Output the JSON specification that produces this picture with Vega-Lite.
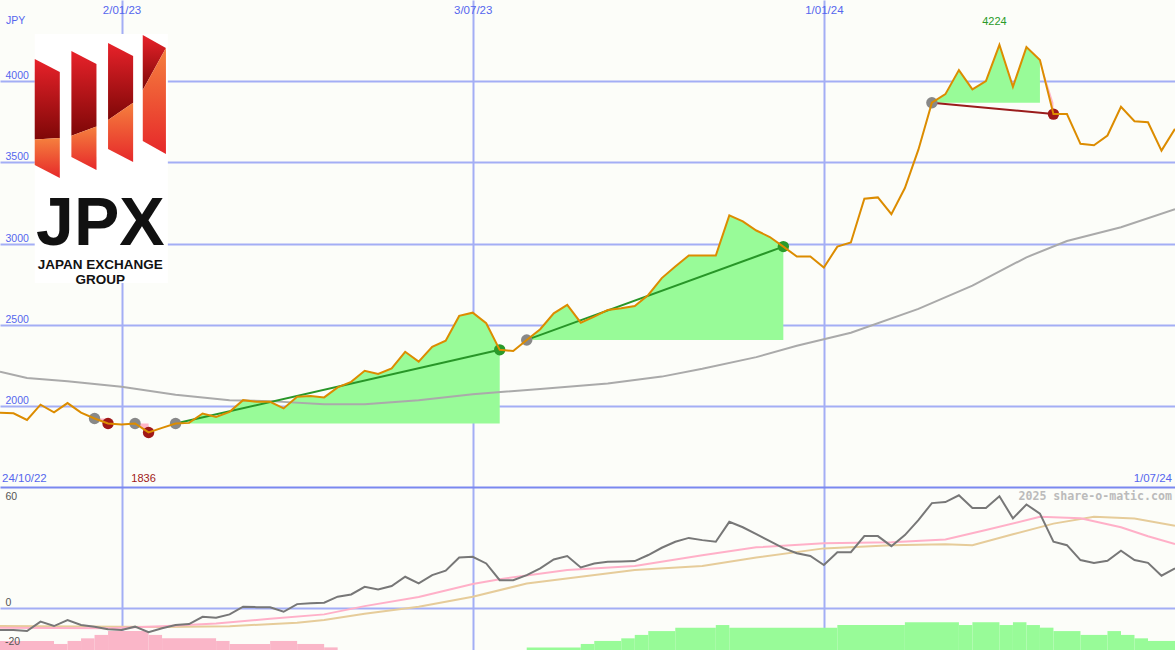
{
"$schema": "https://vega.github.io/schema/vega-lite/v6.json",
"background": "#fcfdf9",
"padding": 0,
"spacing": 0,
"bounds": "flush",
"config": {
  "view": {"stroke": null},
  "axis": {"ticks": false, "tickSize": 0, "domain": false, "title": null, "labelFont": "Liberation Sans", "labelFlush": false, "labelOverlap": false},
  "text": {"font": "Liberation Sans"}
},
"datasets": {
  "price": [
    {"d":"2022-10-31","p":1957},{"d":"2022-11-07","p":1954},{"d":"2022-11-14","p":1913},{"d":"2022-11-21","p":2007},
    {"d":"2022-11-28","p":1960},{"d":"2022-12-05","p":2017},{"d":"2022-12-12","p":1958},{"d":"2022-12-19","p":1922},
    {"d":"2022-12-26","p":1891},{"d":"2023-01-02","p":1885},{"d":"2023-01-09","p":1891},{"d":"2023-01-16","p":1836},
    {"d":"2023-01-23","p":1864},{"d":"2023-01-30","p":1891},{"d":"2023-02-06","p":1895},{"d":"2023-02-13","p":1953},
    {"d":"2023-02-20","p":1932},{"d":"2023-02-27","p":1963},{"d":"2023-03-06","p":2035},{"d":"2023-03-13","p":2025},
    {"d":"2023-03-20","p":2025},{"d":"2023-03-27","p":1984},{"d":"2023-04-03","p":2056},{"d":"2023-04-10","p":2060},
    {"d":"2023-04-17","p":2052},{"d":"2023-04-24","p":2114},{"d":"2023-05-01","p":2148},{"d":"2023-05-08","p":2216},
    {"d":"2023-05-15","p":2196},{"d":"2023-05-22","p":2231},{"d":"2023-05-29","p":2333},{"d":"2023-06-05","p":2272},
    {"d":"2023-06-12","p":2364},{"d":"2023-06-19","p":2401},{"d":"2023-06-26","p":2554},{"d":"2023-07-03","p":2574},
    {"d":"2023-07-10","p":2509},{"d":"2023-07-17","p":2345},{"d":"2023-07-24","p":2338},{"d":"2023-07-31","p":2406},
    {"d":"2023-08-07","p":2472},{"d":"2023-08-14","p":2570},{"d":"2023-08-21","p":2622},{"d":"2023-08-28","p":2512},
    {"d":"2023-09-04","p":2549},{"d":"2023-09-11","p":2591},{"d":"2023-09-18","p":2601},{"d":"2023-09-25","p":2615},
    {"d":"2023-10-02","p":2683},{"d":"2023-10-09","p":2787},{"d":"2023-10-16","p":2858},{"d":"2023-10-23","p":2926},
    {"d":"2023-10-30","p":2926},{"d":"2023-11-06","p":2926},{"d":"2023-11-13","p":3173},{"d":"2023-11-20","p":3136},
    {"d":"2023-11-27","p":3080},{"d":"2023-12-04","p":3040},{"d":"2023-12-11","p":2981},{"d":"2023-12-18","p":2920},
    {"d":"2023-12-25","p":2920},{"d":"2024-01-01","p":2852},{"d":"2024-01-08","p":2981},{"d":"2024-01-15","p":3006},
    {"d":"2024-01-22","p":3276},{"d":"2024-01-29","p":3284},{"d":"2024-02-05","p":3181},{"d":"2024-02-12","p":3342},
    {"d":"2024-02-19","p":3578},{"d":"2024-02-26","p":3867},{"d":"2024-03-04","p":3920},{"d":"2024-03-11","p":4068},
    {"d":"2024-03-18","p":3949},{"d":"2024-03-25","p":4000},{"d":"2024-04-01","p":4224},{"d":"2024-04-08","p":3965},
    {"d":"2024-04-15","p":4210},{"d":"2024-04-22","p":4130},{"d":"2024-04-29","p":3797},{"d":"2024-05-06","p":3797},
    {"d":"2024-05-13","p":3614},{"d":"2024-05-20","p":3605},{"d":"2024-05-27","p":3665},{"d":"2024-06-03","p":3842},
    {"d":"2024-06-10","p":3753},{"d":"2024-06-17","p":3747},{"d":"2024-06-24","p":3572},{"d":"2024-07-01","p":3706}
  ],
  "ma": [
    {"d":"2022-10-31","p":2210},{"d":"2022-11-14","p":2172},{"d":"2022-12-05","p":2152},{"d":"2023-01-02","p":2117},
    {"d":"2023-01-30","p":2068},{"d":"2023-02-27","p":2035},{"d":"2023-03-20","p":2029},{"d":"2023-04-17","p":2010},
    {"d":"2023-05-08","p":2010},{"d":"2023-06-05","p":2034},{"d":"2023-07-03","p":2072},{"d":"2023-08-07","p":2103},
    {"d":"2023-09-11","p":2138},{"d":"2023-10-09","p":2180},{"d":"2023-10-30","p":2228},{"d":"2023-11-27","p":2300},
    {"d":"2023-12-18","p":2370},{"d":"2024-01-15","p":2450},{"d":"2024-02-19","p":2597},{"d":"2024-03-18","p":2740},
    {"d":"2024-04-15","p":2915},{"d":"2024-05-06","p":3015},{"d":"2024-06-03","p":3100},{"d":"2024-07-01","p":3212}
  ],
  "fills": [
    {"g":"A","c":"up","d":"2023-01-30","p":1891,"p2":1891},{"g":"A","c":"up","d":"2023-02-06","p":1895,"p2":1891},
    {"g":"A","c":"up","d":"2023-02-13","p":1953,"p2":1891},{"g":"A","c":"up","d":"2023-02-20","p":1932,"p2":1891},
    {"g":"A","c":"up","d":"2023-02-27","p":1963,"p2":1891},{"g":"A","c":"up","d":"2023-03-06","p":2035,"p2":1891},
    {"g":"A","c":"up","d":"2023-03-13","p":2025,"p2":1891},{"g":"A","c":"up","d":"2023-03-20","p":2025,"p2":1891},
    {"g":"A","c":"up","d":"2023-03-27","p":1984,"p2":1891},{"g":"A","c":"up","d":"2023-04-03","p":2056,"p2":1891},
    {"g":"A","c":"up","d":"2023-04-10","p":2060,"p2":1891},{"g":"A","c":"up","d":"2023-04-17","p":2052,"p2":1891},
    {"g":"A","c":"up","d":"2023-04-24","p":2114,"p2":1891},{"g":"A","c":"up","d":"2023-05-01","p":2148,"p2":1891},
    {"g":"A","c":"up","d":"2023-05-08","p":2216,"p2":1891},{"g":"A","c":"up","d":"2023-05-15","p":2196,"p2":1891},
    {"g":"A","c":"up","d":"2023-05-22","p":2231,"p2":1891},{"g":"A","c":"up","d":"2023-05-29","p":2333,"p2":1891},
    {"g":"A","c":"up","d":"2023-06-05","p":2272,"p2":1891},{"g":"A","c":"up","d":"2023-06-12","p":2364,"p2":1891},
    {"g":"A","c":"up","d":"2023-06-19","p":2401,"p2":1891},{"g":"A","c":"up","d":"2023-06-26","p":2554,"p2":1891},
    {"g":"A","c":"up","d":"2023-07-03","p":2574,"p2":1891},{"g":"A","c":"up","d":"2023-07-10","p":2509,"p2":1891},
    {"g":"A","c":"up","d":"2023-07-17","p":2345,"p2":1891},
    {"g":"B","c":"up","d":"2023-07-31","p":2406,"p2":2406},{"g":"B","c":"up","d":"2023-08-07","p":2472,"p2":2406},
    {"g":"B","c":"up","d":"2023-08-14","p":2570,"p2":2406},{"g":"B","c":"up","d":"2023-08-21","p":2622,"p2":2406},
    {"g":"B","c":"up","d":"2023-08-28","p":2512,"p2":2406},{"g":"B","c":"up","d":"2023-09-04","p":2549,"p2":2406},
    {"g":"B","c":"up","d":"2023-09-11","p":2591,"p2":2406},{"g":"B","c":"up","d":"2023-09-18","p":2601,"p2":2406},
    {"g":"B","c":"up","d":"2023-09-25","p":2615,"p2":2406},{"g":"B","c":"up","d":"2023-10-02","p":2683,"p2":2406},
    {"g":"B","c":"up","d":"2023-10-09","p":2787,"p2":2406},{"g":"B","c":"up","d":"2023-10-16","p":2858,"p2":2406},
    {"g":"B","c":"up","d":"2023-10-23","p":2926,"p2":2406},{"g":"B","c":"up","d":"2023-10-30","p":2926,"p2":2406},
    {"g":"B","c":"up","d":"2023-11-06","p":2926,"p2":2406},{"g":"B","c":"up","d":"2023-11-13","p":3173,"p2":2406},
    {"g":"B","c":"up","d":"2023-11-20","p":3136,"p2":2406},{"g":"B","c":"up","d":"2023-11-27","p":3080,"p2":2406},
    {"g":"B","c":"up","d":"2023-12-04","p":3040,"p2":2406},{"g":"B","c":"up","d":"2023-12-11","p":2981,"p2":2406},
    {"g":"C","c":"up","d":"2024-02-26","p":3867,"p2":3867},{"g":"C","c":"up","d":"2024-03-04","p":3920,"p2":3867},
    {"g":"C","c":"up","d":"2024-03-11","p":4068,"p2":3867},{"g":"C","c":"up","d":"2024-03-18","p":3949,"p2":3867},
    {"g":"C","c":"up","d":"2024-03-25","p":4000,"p2":3867},{"g":"C","c":"up","d":"2024-04-01","p":4224,"p2":3867},
    {"g":"C","c":"up","d":"2024-04-08","p":3965,"p2":3867},{"g":"C","c":"up","d":"2024-04-15","p":4210,"p2":3867},
    {"g":"C","c":"up","d":"2024-04-22","p":4130,"p2":3867},
    {"g":"P1","c":"down","d":"2022-12-19","p":1922,"p2":1922},{"g":"P1","c":"down","d":"2022-12-26","p":1891,"p2":1922},
    {"g":"P2","c":"down","d":"2023-01-09","p":1891,"p2":1891},{"g":"P2","c":"down","d":"2023-01-16","p":1836,"p2":1891},
    {"g":"P3","c":"down","d":"2024-04-22","p":4130,"p2":4130},{"g":"P3","c":"down","d":"2024-04-29","p":3797,"p2":3867}
  ],
  "trend": [
    {"g":"T1","c":"up","d":"2023-01-30","p":1891},{"g":"T1","c":"up","d":"2023-07-17","p":2345},
    {"g":"T2","c":"up","d":"2023-07-31","p":2406},{"g":"T2","c":"up","d":"2023-12-11","p":2981},
    {"g":"T3","c":"down","d":"2024-02-26","p":3867},{"g":"T3","c":"down","d":"2024-04-29","p":3797}
  ],
  "pts": [
    {"c":"start","d":"2022-12-19","p":1922},{"c":"start","d":"2023-01-09","p":1891},{"c":"start","d":"2023-01-30","p":1891},
    {"c":"start","d":"2023-07-31","p":2406},{"c":"start","d":"2024-02-26","p":3867},
    {"c":"low","d":"2022-12-26","p":1891},{"c":"low","d":"2023-01-16","p":1836},{"c":"low","d":"2024-04-29","p":3797},
    {"c":"high","d":"2023-07-17","p":2345},{"c":"high","d":"2023-12-11","p":2981}
  ],
  "logoU": [
    {"b":1,"d":"2022-11-18","p":4137,"p2":3640},{"b":1,"d":"2022-12-01","p":4056,"p2":3650},
    {"b":2,"d":"2022-12-07","p":4186,"p2":3664},{"b":2,"d":"2022-12-20","p":4106,"p2":3720},
    {"b":3,"d":"2022-12-26","p":4235,"p2":3761},{"b":3,"d":"2023-01-08","p":4155,"p2":3867},
    {"b":4,"d":"2023-01-13","p":4284,"p2":3946},{"b":4,"d":"2023-01-25","p":4204,"p2":4204}
  ],
  "logoL": [
    {"b":1,"d":"2022-11-18","p":3640,"p2":3484},{"b":1,"d":"2022-12-01","p":3650,"p2":3404},
    {"b":2,"d":"2022-12-07","p":3664,"p2":3533},{"b":2,"d":"2022-12-20","p":3720,"p2":3453},
    {"b":3,"d":"2022-12-26","p":3761,"p2":3582},{"b":3,"d":"2023-01-08","p":3867,"p2":3502},
    {"b":4,"d":"2023-01-13","p":3946,"p2":3631},{"b":4,"d":"2023-01-25","p":4204,"p2":3551}
  ],
  "osc": [
    {"d":"2022-10-31","v":-11.1},{"d":"2022-11-07","v":-11.1},{"d":"2022-11-14","v":-11.6},{"d":"2022-11-21","v":-6.9},
    {"d":"2022-11-28","v":-9.1},{"d":"2022-12-05","v":-6.1},{"d":"2022-12-12","v":-8.6},{"d":"2022-12-19","v":-9.4},
    {"d":"2022-12-26","v":-10.7},{"d":"2023-01-02","v":-11.1},{"d":"2023-01-09","v":-9.4},{"d":"2023-01-16","v":-12.2},
    {"d":"2023-01-23","v":-10.2},{"d":"2023-01-30","v":-8.6},{"d":"2023-02-06","v":-8.1},{"d":"2023-02-13","v":-4.5},
    {"d":"2023-02-20","v":-5.0},{"d":"2023-02-27","v":-3.3},{"d":"2023-03-06","v":0.5},{"d":"2023-03-13","v":0.3},
    {"d":"2023-03-20","v":0.2},{"d":"2023-03-27","v":-2.0},{"d":"2023-04-03","v":1.8},{"d":"2023-04-10","v":2.2},
    {"d":"2023-04-17","v":2.5},{"d":"2023-04-24","v":5.5},{"d":"2023-05-01","v":6.6},{"d":"2023-05-08","v":10.4},
    {"d":"2023-05-15","v":9.1},{"d":"2023-05-22","v":10.8},{"d":"2023-05-29","v":15.4},{"d":"2023-06-05","v":12.1},
    {"d":"2023-06-12","v":16.2},{"d":"2023-06-19","v":18.4},{"d":"2023-06-26","v":25.0},{"d":"2023-07-03","v":25.3},
    {"d":"2023-07-10","v":22.0},{"d":"2023-07-17","v":13.7},{"d":"2023-07-24","v":13.7},{"d":"2023-07-31","v":16.2},
    {"d":"2023-08-07","v":19.6},{"d":"2023-08-14","v":24.0},{"d":"2023-08-21","v":25.7},{"d":"2023-08-28","v":20.0},
    {"d":"2023-09-04","v":22.0},{"d":"2023-09-11","v":22.8},{"d":"2023-09-18","v":23.0},{"d":"2023-09-25","v":23.2},
    {"d":"2023-10-02","v":26.2},{"d":"2023-10-09","v":29.8},{"d":"2023-10-16","v":32.8},{"d":"2023-10-23","v":34.7},
    {"d":"2023-10-30","v":33.6},{"d":"2023-11-06","v":32.8},{"d":"2023-11-13","v":42.7},{"d":"2023-11-20","v":40.0},
    {"d":"2023-11-27","v":36.6},{"d":"2023-12-04","v":33.1},{"d":"2023-12-11","v":29.6},{"d":"2023-12-18","v":27.1},
    {"d":"2023-12-25","v":25.7},{"d":"2024-01-01","v":21.2},{"d":"2024-01-08","v":27.6},{"d":"2024-01-15","v":27.6},
    {"d":"2024-01-22","v":35.6},{"d":"2024-01-29","v":35.6},{"d":"2024-02-05","v":30.6},{"d":"2024-02-12","v":36.1},
    {"d":"2024-02-19","v":43.5},{"d":"2024-02-26","v":52.0},{"d":"2024-03-04","v":52.5},{"d":"2024-03-11","v":55.9},
    {"d":"2024-03-18","v":49.6},{"d":"2024-03-25","v":49.6},{"d":"2024-04-01","v":55.4},{"d":"2024-04-08","v":44.4},
    {"d":"2024-04-15","v":51.3},{"d":"2024-04-22","v":46.8},{"d":"2024-04-29","v":32.8},{"d":"2024-05-06","v":31.1},
    {"d":"2024-05-13","v":23.7},{"d":"2024-05-20","v":22.3},{"d":"2024-05-27","v":23.3},{"d":"2024-06-03","v":28.3},
    {"d":"2024-06-10","v":23.7},{"d":"2024-06-17","v":22.3},{"d":"2024-06-24","v":15.9},{"d":"2024-07-01","v":19.6}
  ],
  "pink": [
    {"d":"2022-10-31","v":-10.0},{"d":"2022-12-26","v":-10.2},{"d":"2023-01-23","v":-9.2},{"d":"2023-02-20","v":-7.8},
    {"d":"2023-03-20","v":-5.5},{"d":"2023-04-17","v":-3.3},{"d":"2023-05-08","v":0.8},{"d":"2023-06-05","v":5.3},
    {"d":"2023-07-03","v":11.8},{"d":"2023-07-17","v":14.2},{"d":"2023-08-21","v":18.7},{"d":"2023-09-25","v":20.7},
    {"d":"2023-10-30","v":26.1},{"d":"2023-11-27","v":30.0},{"d":"2024-01-01","v":32.0},{"d":"2024-02-05","v":32.5},
    {"d":"2024-03-04","v":33.9},{"d":"2024-03-25","v":38.6},{"d":"2024-04-22","v":45.2},{"d":"2024-05-13","v":44.5},
    {"d":"2024-06-03","v":40.0},{"d":"2024-06-17","v":35.5},{"d":"2024-07-01","v":31.6}
  ],
  "tan": [
    {"d":"2022-10-31","v":-9.1},{"d":"2023-01-23","v":-9.6},{"d":"2023-02-27","v":-9.2},{"d":"2023-04-03","v":-7.4},
    {"d":"2023-04-17","v":-6.1},{"d":"2023-05-08","v":-3.0},{"d":"2023-06-05","v":0.5},{"d":"2023-07-03","v":5.5},
    {"d":"2023-07-31","v":12.0},{"d":"2023-09-25","v":18.7},{"d":"2023-10-30","v":20.7},{"d":"2023-11-27","v":25.0},
    {"d":"2024-01-01","v":29.5},{"d":"2024-02-05","v":31.0},{"d":"2024-03-04","v":31.5},{"d":"2024-03-18","v":31.1},
    {"d":"2024-04-08","v":36.5},{"d":"2024-04-29","v":41.8},{"d":"2024-05-20","v":45.2},{"d":"2024-06-10","v":44.4},
    {"d":"2024-07-01","v":40.7}
  ],
  "hist": [
    {"d":"2022-10-31","d2":"2022-11-28","v":-16.5,"s":"neg"},{"d":"2022-11-28","d2":"2022-12-05","v":-18.0,"s":"neg"},
    {"d":"2022-12-05","d2":"2022-12-12","v":-16.5,"s":"neg"},{"d":"2022-12-12","d2":"2022-12-19","v":-15.2,"s":"neg"},
    {"d":"2022-12-19","d2":"2022-12-26","v":-13.5,"s":"neg"},{"d":"2022-12-26","d2":"2023-01-16","v":-11.6,"s":"neg"},
    {"d":"2023-01-16","d2":"2023-01-23","v":-13.5,"s":"neg"},{"d":"2023-01-23","d2":"2023-02-20","v":-15.2,"s":"neg"},
    {"d":"2023-02-20","d2":"2023-02-27","v":-16.5,"s":"neg"},{"d":"2023-02-27","d2":"2023-03-20","v":-18.0,"s":"neg"},
    {"d":"2023-03-20","d2":"2023-04-03","v":-16.5,"s":"neg"},{"d":"2023-04-03","d2":"2023-04-17","v":-18.0,"s":"neg"},
    {"d":"2023-04-17","d2":"2023-04-24","v":-19.7,"s":"neg"},
    {"d":"2023-07-31","d2":"2023-08-28","v":-19.7,"s":"pos"},{"d":"2023-08-28","d2":"2023-09-04","v":-18.0,"s":"pos"},
    {"d":"2023-09-04","d2":"2023-09-18","v":-16.5,"s":"pos"},{"d":"2023-09-18","d2":"2023-09-25","v":-15.2,"s":"pos"},
    {"d":"2023-09-25","d2":"2023-10-02","v":-13.5,"s":"pos"},{"d":"2023-10-02","d2":"2023-10-16","v":-11.6,"s":"pos"},
    {"d":"2023-10-16","d2":"2023-11-06","v":-9.9,"s":"pos"},{"d":"2023-11-06","d2":"2023-11-13","v":-8.6,"s":"pos"},
    {"d":"2023-11-13","d2":"2024-01-08","v":-9.9,"s":"pos"},{"d":"2024-01-08","d2":"2024-02-12","v":-8.6,"s":"pos"},
    {"d":"2024-02-12","d2":"2024-03-11","v":-7.2,"s":"pos"},{"d":"2024-03-11","d2":"2024-03-18","v":-8.6,"s":"pos"},
    {"d":"2024-03-18","d2":"2024-04-01","v":-7.2,"s":"pos"},{"d":"2024-04-01","d2":"2024-04-08","v":-8.6,"s":"pos"},
    {"d":"2024-04-08","d2":"2024-04-15","v":-7.2,"s":"pos"},{"d":"2024-04-15","d2":"2024-04-22","v":-8.6,"s":"pos"},
    {"d":"2024-04-22","d2":"2024-04-29","v":-9.9,"s":"pos"},{"d":"2024-04-29","d2":"2024-05-13","v":-11.6,"s":"pos"},
    {"d":"2024-05-13","d2":"2024-05-27","v":-13.5,"s":"pos"},{"d":"2024-05-27","d2":"2024-06-03","v":-11.6,"s":"pos"},
    {"d":"2024-06-03","d2":"2024-06-10","v":-13.5,"s":"pos"},{"d":"2024-06-10","d2":"2024-06-17","v":-15.2,"s":"pos"},
    {"d":"2024-06-17","d2":"2024-07-01","v":-16.5,"s":"pos"}
  ]
},
"vconcat": [
  {
    "width": 1175,
    "height": 487,
    "resolve": {"scale": {"color": "independent"}},
    "encoding": {
      "x": {"field": "d", "type": "temporal",
        "scale": {"type": "utc", "domain": [{"year": 2022, "month": 10, "date": 31, "utc": true}, {"year": 2024, "month": 7, "date": 1, "utc": true}]},
        "axis": {"orient": "top", "values": [{"year": 2023, "month": 1, "date": 2, "utc": true}, {"year": 2023, "month": 7, "date": 3, "utc": true}, {"year": 2024, "month": 1, "date": 1, "utc": true}],
          "labelExpr": "utcFormat(datum.value, '%-d/%m/%y')", "grid": true, "gridColor": "#a3aef5", "gridWidth": 2,
          "labelPadding": -13, "labelBaseline": "alphabetic", "labelAlign": "center", "labelColor": "#5566ee", "labelFontSize": 11.5}},
      "y": {"field": "p", "type": "quantitative",
        "scale": {"domain": [1500, 4500], "nice": false, "zero": false},
        "axis": {"values": [2000, 2500, 3000, 3500, 4000], "labelExpr": "'' + datum.value", "grid": true, "gridColor": "#a3aef5", "gridWidth": 2,
          "labelAlign": "left", "labelPadding": -5, "labelBaseline": "alphabetic", "labelOffset": -2.5, "labelColor": "#5566ee", "labelFontSize": 10.5}}
    },
    "layer": [
      {"data": {"name": "fills"}, "mark": {"type": "area", "opacity": 1},
       "encoding": {"y2": {"field": "p2"}, "detail": {"field": "g"},
         "color": {"field": "c", "type": "nominal", "scale": {"domain": ["up", "down"], "range": ["#98fb98", "#ffb6c8"]}, "legend": null}}},
      {"data": {"name": "ma"}, "mark": {"type": "line", "color": "#aaaaaa", "strokeWidth": 2, "clip": true}, "encoding": {}},
      {"data": {"name": "trend"}, "mark": {"type": "line", "strokeWidth": 2},
       "encoding": {"detail": {"field": "g"},
         "color": {"field": "c", "type": "nominal", "scale": {"domain": ["up", "down"], "range": ["#289628", "#9a1c1c"]}, "legend": null}}},
      {"data": {"name": "pts"}, "mark": {"type": "circle", "size": 130, "opacity": 1},
       "encoding": {"color": {"field": "c", "type": "nominal", "scale": {"domain": ["start", "low", "high"], "range": ["#888888", "#a01818", "#2a9a2a"]}, "legend": null}}},
      {"data": {"name": "price"}, "mark": {"type": "line", "color": "#dc8c00", "strokeWidth": 2, "clip": true}, "encoding": {}},
      {"data": {"values": [{"d": "2022-11-18", "d2": "2023-01-26", "p": 4291, "p2": 2757}]},
       "mark": {"type": "rect", "color": "#ffffff"},
       "encoding": {"x2": {"field": "d2"}, "y2": {"field": "p2"}}},
      {"data": {"name": "logoU"},
       "mark": {"type": "area", "opacity": 1, "color": {"gradient": "linear", "x1": 0, "y1": 0, "x2": 0, "y2": 1, "stops": [{"offset": 0, "color": "#e8222a"}, {"offset": 1, "color": "#7e0707"}]}},
       "encoding": {"y2": {"field": "p2"}, "detail": {"field": "b"}}},
      {"data": {"name": "logoL"},
       "mark": {"type": "area", "opacity": 1, "color": {"gradient": "linear", "x1": 0, "y1": 0, "x2": 0, "y2": 1, "stops": [{"offset": 0, "color": "#f5803e"}, {"offset": 1, "color": "#e6282a"}]}},
       "encoding": {"y2": {"field": "p2"}, "detail": {"field": "b"}}},
      {"data": {"values": [{"d": "2022-12-22", "p": 2991, "t": "JPX"}]},
       "mark": {"type": "text", "font": "Liberation Sans", "fontSize": 68, "fontWeight": "bold", "color": "#111111", "align": "center", "baseline": "alphabetic"},
       "encoding": {"text": {"field": "t"}}},
      {"data": {"values": [{"d": "2022-12-22", "p": 2845, "t": "JAPAN EXCHANGE"}, {"d": "2022-12-22", "p": 2750, "t": "GROUP"}]},
       "mark": {"type": "text", "font": "Liberation Sans", "fontSize": 13.5, "fontWeight": "bold", "color": "#111111", "align": "center", "baseline": "alphabetic"},
       "encoding": {"text": {"field": "t"}}},
      {"data": {"values": [{"d": "2022-10-31", "p": 4355, "t": "JPY"}]},
       "mark": {"type": "text", "fontSize": 10.5, "color": "#5566ee", "align": "left", "baseline": "alphabetic", "dx": 6},
       "encoding": {"text": {"field": "t"}}},
      {"data": {"values": [{"d": "2024-04-01", "p": 4346, "t": "4224"}]},
       "mark": {"type": "text", "fontSize": 11, "color": "#2a9a2a", "align": "center", "baseline": "alphabetic", "dx": -5},
       "encoding": {"text": {"field": "t"}}},
      {"data": {"values": [{"d": "2023-01-16", "p": 1528, "t": "1836"}]},
       "mark": {"type": "text", "fontSize": 11, "color": "#a01818", "align": "center", "baseline": "alphabetic", "dx": -5},
       "encoding": {"text": {"field": "t"}}},
      {"data": {"values": [{"d": "2022-10-31", "p": 1528, "t": "24/10/22"}]},
       "mark": {"type": "text", "fontSize": 11.5, "color": "#5566ee", "align": "left", "baseline": "alphabetic", "dx": 2},
       "encoding": {"text": {"field": "t"}}},
      {"data": {"values": [{"d": "2024-07-01", "p": 1528, "t": "1/07/24"}]},
       "mark": {"type": "text", "fontSize": 11.5, "color": "#5566ee", "align": "right", "baseline": "alphabetic", "dx": -3},
       "encoding": {"text": {"field": "t"}}}
    ]
  },
  {
    "width": 1175,
    "height": 163,
    "resolve": {"scale": {"color": "independent"}},
    "encoding": {
      "x": {"field": "d", "type": "temporal",
        "scale": {"type": "utc", "domain": [{"year": 2022, "month": 10, "date": 31, "utc": true}, {"year": 2024, "month": 7, "date": 1, "utc": true}]},
        "axis": {"values": [{"year": 2023, "month": 1, "date": 2, "utc": true}, {"year": 2023, "month": 7, "date": 3, "utc": true}, {"year": 2024, "month": 1, "date": 1, "utc": true}],
          "labels": false, "grid": true, "gridColor": "#a3aef5", "gridWidth": 2}},
      "y": {"field": "v", "type": "quantitative",
        "scale": {"domain": [-21, 60], "nice": false, "zero": false},
        "axis": {"values": [60, 0, -20], "labelExpr": "'' + datum.value", "grid": true, "gridWidth": 2,
          "gridColor": {"condition": {"test": "datum.value == 60", "value": "#7a88f0"}, "value": "#a3aef5"},
          "gridOpacity": {"condition": {"test": "datum.value == -20", "value": 0}, "value": 1},
          "labelOpacity": {"condition": {"test": "datum.value == -20", "value": 0}, "value": 1},
          "labelAlign": "left", "labelPadding": -5, "labelBaseline": "alphabetic",
          "labelOffset": {"condition": {"test": "datum.value == 60", "value": 12.5}, "value": -2.5},
          "labelColor": "#555555", "labelFontSize": 10.5}}
    },
    "layer": [
      {"data": {"name": "hist"}, "mark": {"type": "rect", "opacity": 1},
       "encoding": {"x2": {"field": "d2"}, "y2": {"datum": -21},
         "color": {"field": "s", "type": "nominal", "scale": {"domain": ["neg", "pos"], "range": ["#fab6c8", "#98fb98"]}, "legend": null}}},
      {"data": {"name": "tan"}, "mark": {"type": "line", "color": "#e6cc9a", "strokeWidth": 2, "clip": true}, "encoding": {}},
      {"data": {"name": "pink"}, "mark": {"type": "line", "color": "#ffb0c8", "strokeWidth": 2, "clip": true}, "encoding": {}},
      {"data": {"name": "osc"}, "mark": {"type": "line", "color": "#777777", "strokeWidth": 2, "clip": true}, "encoding": {}},
      {"data": {"values": [{"d": "2022-10-31", "v": -20, "t": "-20"}]},
       "mark": {"type": "text", "fontSize": 10.5, "color": "#555555", "align": "left", "baseline": "alphabetic", "dx": 5, "dy": -2.5},
       "encoding": {"text": {"field": "t"}}},
      {"data": {"values": [{"d": "2024-07-01", "v": 53.5, "t": "2025 share-o-matic.com"}]},
       "mark": {"type": "text", "font": "DejaVu Sans Mono", "fontSize": 11.6, "fontWeight": "bold", "color": "#bbbbbb", "align": "right", "baseline": "alphabetic", "dx": -3},
       "encoding": {"text": {"field": "t"}}}
    ]
  }
]
}
